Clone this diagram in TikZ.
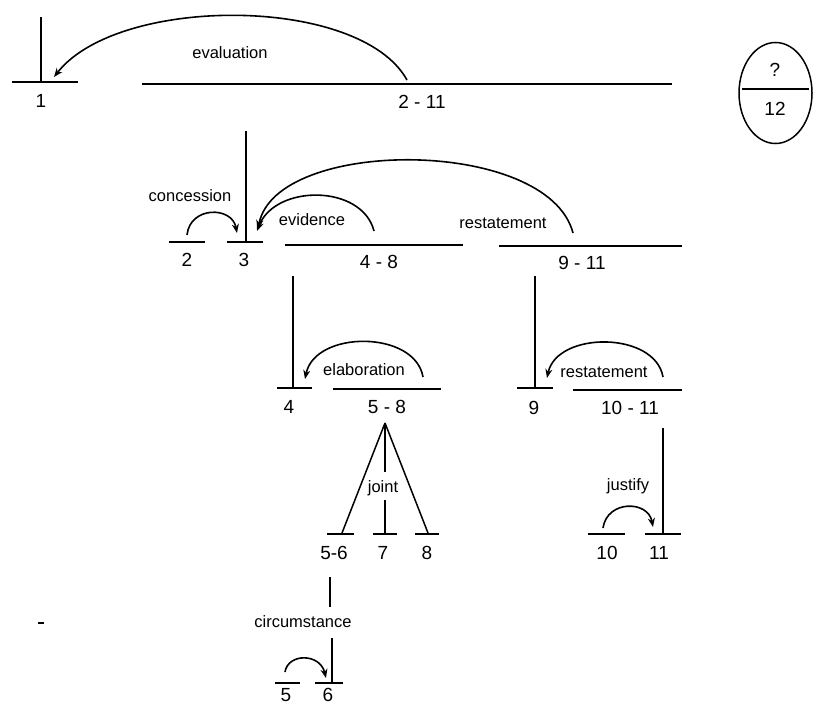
\documentclass[tikz,border=0pt]{standalone}
\usepackage{fontspec}
\setmainfont{Liberation Sans}
\usetikzlibrary{arrows.meta,shapes.geometric}
\newfontfamily\labfont{Liberation Sans}
\newcommand{\rstlab}{\labfont\fontsize{16.5}{18}\selectfont}
\newcommand{\rstnum}{\labfont\fontsize{19}{21}\selectfont}
\tikzset{
  seg/.style={line width=2.4pt},
  vln/.style={line width=1.5pt},
  rel/.style={line width=1.6pt,-{Stealth[length=9pt,width=7pt]}},
  lab/.style={font=\rstlab,inner sep=1pt},
  num/.style={font=\rstnum,inner sep=1pt},
}
\begin{document}
\begin{tikzpicture}[x=1pt,y=-1pt]
\useasboundingbox (0,0) rectangle (813,706);
% ---------- level 1
\coordinate (s1a) at (12,82);   \coordinate (s1b) at (78,82);
\coordinate (v1t) at (41,17);   \coordinate (v1b) at (41,82);
\coordinate (sAa) at (142,84);  \coordinate (sAb) at (672,84);
\draw[seg] (s1a) -- (s1b);
\draw[vln] (v1t) -- (v1b);
\draw[seg] (sAa) -- (sAb);
\node[num] (n1) at (41,101) {1};
\node[num] (nA) at (422,102) {2 - 11};
\coordinate (evS) at (407,80); \coordinate (evT) at (54,77);
\draw[rel] (evS) .. controls (360,-5) and (118,-5) .. (evT);
\node[lab] (evl) at (230,53) {evaluation};
% ellipse 12
\node[draw,ellipse,line width=1.5pt,minimum width=73pt,minimum height=101pt,inner sep=0pt] (e12) at (775.5,93) {};
\coordinate (e12a) at (742,89); \coordinate (e12b) at (809,89);
\draw[seg] (e12a) -- (e12b);
\node[num] (nq) at (775,70) {?};
\node[num] (n12) at (775,109) {12};
% ---------- level 2
\coordinate (s2a) at (169,242); \coordinate (s2b) at (205,242);
\coordinate (s3a) at (227,242); \coordinate (s3b) at (263,242);
\coordinate (v3t) at (246,131); \coordinate (v3b) at (246,242);
\coordinate (s48a) at (285,245); \coordinate (s48b) at (463,245);
\coordinate (s911a) at (499,246); \coordinate (s911b) at (682,246);
\draw[seg] (s2a) -- (s2b);
\draw[seg] (s3a) -- (s3b);
\draw[vln] (v3t) -- (v3b);
\draw[seg] (s48a) -- (s48b);
\draw[seg] (s911a) -- (s911b);
\node[num] (n2) at (187,260) {2};
\node[num] (n3) at (244,260) {3};
\node[num] (n48) at (379,262) {4 - 8};
\node[num] (n911) at (582,263) {9 - 11};
\coordinate (coS) at (187,235); \coordinate (coT) at (237,233);
\draw[rel] (coS) .. controls (190,206) and (232,206) .. (coT);
\node[lab] (col) at (190,196) {concession};
\coordinate (evdS) at (374,231); \coordinate (evdT) at (257,231);
\draw[rel] (evdS) .. controls (362,184) and (275,184) .. (evdT);
\node[lab] (evdl) at (312,220) {evidence};
\coordinate (reS) at (573,233); \coordinate (reT) at (258,229);
\draw[rel] (reS) .. controls (548,137) and (276,137) .. (reT);
\node[lab] (rel1) at (503,223) {restatement};
% ---------- level 3
\coordinate (v4t) at (293,276); \coordinate (v4b) at (293,388);
\coordinate (s4a) at (277,388); \coordinate (s4b) at (312,388);
\coordinate (s58a) at (333,389); \coordinate (s58b) at (441,389);
\coordinate (v9t) at (535,276); \coordinate (v9b) at (535,388);
\coordinate (s9a) at (517,388); \coordinate (s9b) at (553,388);
\coordinate (s1011a) at (573,390); \coordinate (s1011b) at (682,390);
\draw[vln] (v4t) -- (v4b);
\draw[seg] (s4a) -- (s4b);
\draw[seg] (s58a) -- (s58b);
\draw[vln] (v9t) -- (v9b);
\draw[seg] (s9a) -- (s9b);
\draw[seg] (s1011a) -- (s1011b);
\node[num] (n4) at (289,407) {4};
\node[num] (n58) at (387,407) {5 - 8};
\node[num] (n9) at (534,408) {9};
\node[num] (n1011) at (630,408) {10 - 11};
\coordinate (elS) at (423,377); \coordinate (elT) at (305,379);
\draw[rel] (elS) .. controls (415,330) and (315,330) .. (elT);
\node[lab] (ell) at (364,370) {elaboration};
\coordinate (re2S) at (663,377); \coordinate (re2T) at (547,378);
\draw[rel] (re2S) .. controls (655,331) and (557,331) .. (re2T);
\node[lab] (rel2) at (604,372) {restatement};
% ---------- level 4: joint
\coordinate (jA) at (385,423);
\coordinate (j56) at (342,533); \coordinate (j8) at (428,533);
\coordinate (j7a) at (385,472); \coordinate (j7b) at (385,500); \coordinate (j7) at (385,533);
\draw[vln] (jA) -- (j56);
\draw[vln] (jA) -- (j8);
\draw[vln] (jA) -- (j7a);
\draw[vln] (j7b) -- (j7);
\node[lab] (jl) at (383,488) {joint};
\coordinate (s56a) at (327,534); \coordinate (s56b) at (354,534);
\coordinate (s7a) at (373,534); \coordinate (s7b) at (397,534);
\coordinate (s8a) at (415,534); \coordinate (s8b) at (439,534);
\draw[seg] (s56a) -- (s56b);
\draw[seg] (s7a) -- (s7b);
\draw[seg] (s8a) -- (s8b);
\node[num] (n56) at (334,553) {5-6};
\node[num] (n7) at (383,553) {7};
\node[num] (n8) at (427,553) {8};
% justify
\coordinate (v11t) at (663,428); \coordinate (v11b) at (663,534);
\coordinate (s10a) at (588,534); \coordinate (s10b) at (625,534);
\coordinate (s11a) at (645,534); \coordinate (s11b) at (681,534);
\draw[vln] (v11t) -- (v11b);
\draw[seg] (s10a) -- (s10b);
\draw[seg] (s11a) -- (s11b);
\node[num] (n10) at (607,553) {10};
\node[num] (n11) at (659,553) {11};
\coordinate (juS) at (603,528); \coordinate (juT) at (653,527);
\draw[rel] (juS) .. controls (607,500) and (648,500) .. (juT);
\node[lab] (jul) at (628,486) {justify};
% ---------- level 5: circumstance
\coordinate (v6t) at (330,577); \coordinate (v6m) at (330,607);
\coordinate (v6n) at (332,638); \coordinate (v6b) at (332,683);
\draw[vln] (v6t) -- (v6m);
\draw[vln] (v6n) -- (v6b);
\node[lab] (cil) at (303,622) {circumstance};
\coordinate (s5a) at (275,683); \coordinate (s5b) at (300,683);
\coordinate (s6a) at (315,683); \coordinate (s6b) at (343,683);
\draw[seg] (s5a) -- (s5b);
\draw[seg] (s6a) -- (s6b);
\node[num] (n5) at (286,695) {5};
\node[num] (n6) at (328,695) {6};
\coordinate (ciS) at (285,672); \coordinate (ciT) at (326,678);
\draw[rel] (ciS) .. controls (288,653) and (320,653) .. (ciT);
% stray mark
\coordinate (dA) at (38,623); \coordinate (dB) at (44,623);
\draw[line width=2pt] (dA) -- (dB);
\end{tikzpicture}
\end{document}
